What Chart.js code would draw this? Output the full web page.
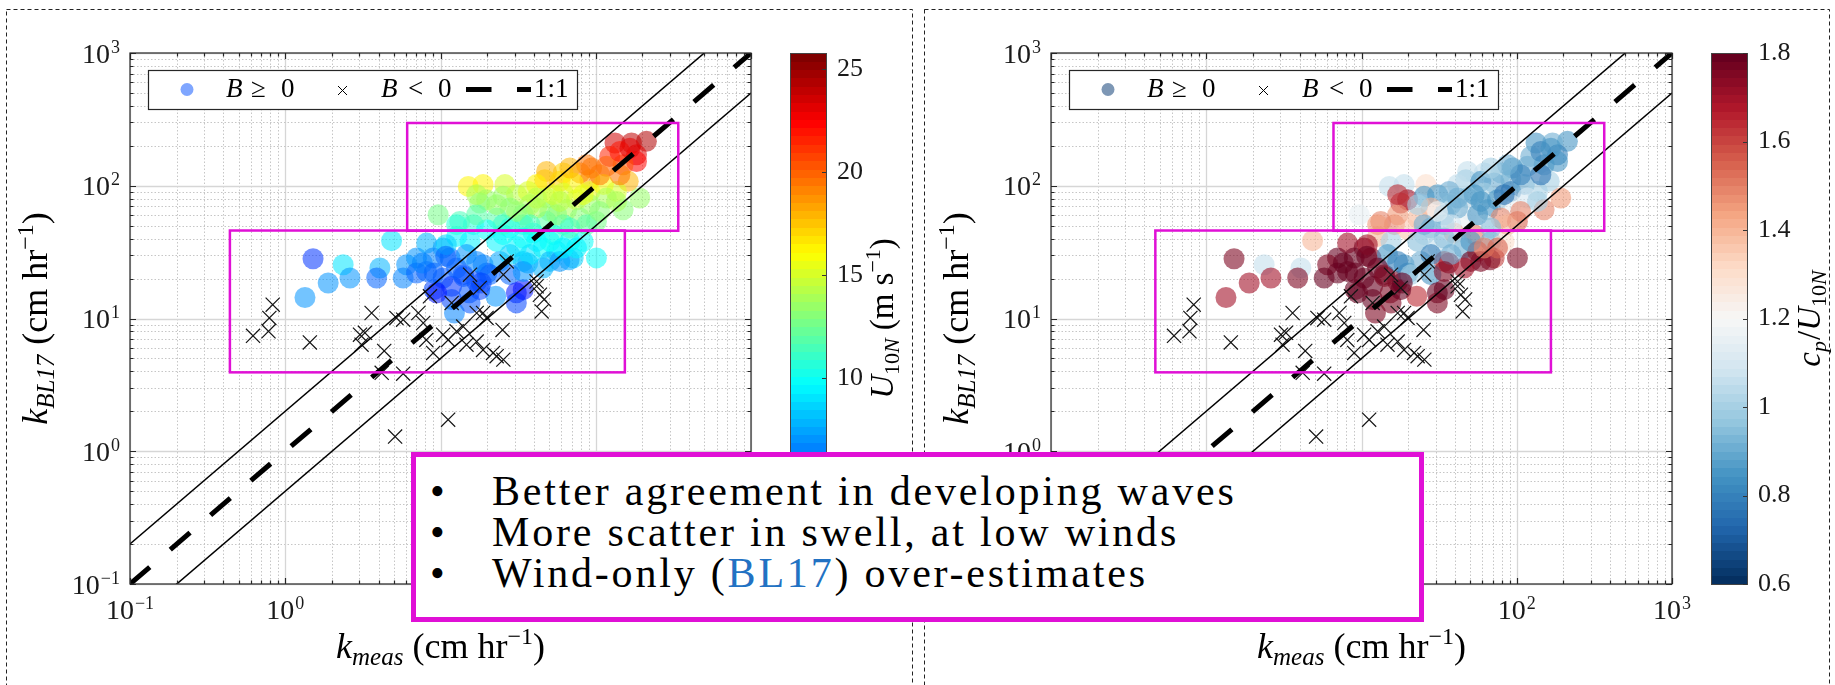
<!DOCTYPE html>
<html>
<head>
<meta charset="utf-8">
<script src="https://cdn.jsdelivr.net/npm/chart.js@4.4.1/dist/chart.umd.min.js"></script>
<style>
  html, body { margin: 0; padding: 0; background: #fff; }
  #wrap { position: relative; width: 1835px; height: 685px; overflow: hidden; background: #fff; }
  canvas { position: absolute; top: 0; }
  #cL { left: 0; }
  #cR { left: 917px; }
  #note {
    position: absolute; left: 411px; top: 452px; width: 1013px; height: 170px;
    box-sizing: border-box; border: 5px solid #e010d6; background: #fff;
    font-family: "Liberation Serif", serif; font-size: 42px; color: #000;
  }
  .ln { position: absolute; left: 0; width: 100%; height: 42px; line-height: 42px; white-space: nowrap; }
  .bl { position: absolute; left: 14px; top: 0; }
  .tx { position: absolute; left: 76px; top: 0; letter-spacing: 2.8px; }
  .ref { color: #2272c3; }
</style>
</head>
<body>
<div id="wrap">
  <canvas id="cL" width="917" height="685"></canvas>
  <canvas id="cR" width="918" height="685"></canvas>
  <div id="note">
    <div class="ln" style="top:13px"><span class="bl">•</span><span class="tx">Better agreement in developing waves</span></div>
    <div class="ln" style="top:54px"><span class="bl">•</span><span class="tx">More scatter in swell, at low winds</span></div>
    <div class="ln" style="top:95px"><span class="bl">•</span><span class="tx">Wind-only (<span class="ref">BL17</span>) over-estimates</span></div>
  </div>
</div>
<script>
// ---- bubble-mediated gas transfer: B >= 0 samples ----
const kMeas = [212, 170, 133, 183, 183, 123, 150, 162, 117, 94, 91.6, 79, 61.7, 48.2, 47, 58.7, 71.6, 91.6, 112, 136,
  192, 150, 117, 18.8, 15.1, 26, 41.6, 19.8, 25.3, 30.9, 36.7, 48.2, 61.7, 75.2, 91.6, 17.9, 28, 37.7, 50.6, 64.9,
  79, 101, 9.66, 23, 34.1, 48.2, 61.7, 16.3, 19.8, 28, 39.5, 53.2, 68.1, 12.7, 15.5, 23, 30.9, 45.8, 56, 71.6,
  101, 4.84, 8.14, 10.4, 7.01, 8.97, 11.5, 14.7, 18.8, 24.1, 34.1, 50.6, 58.7, 1.51, 2.36, 2.61, 4.07, 3.88, 6.05, 5.75,
  1.89, 8.14, 10.4, 14, 17.1, 28, 1.34, 9.1, 11.8, 11.8, 15.3, 12.3, 22.7, 30.8, 30.8, 36.5, 67.3, 19.9, 7.01, 15.5,
  17.9, 34.1, 9.44, 25.3, 34.1, 17.1, 13.3, 41.6, 83, 87.3, 28, 45.8, 106, 143, 83, 53.2,
  17.1, 23.0, 30.9, 41.6, 56, 68.1, 37.7, 25.3, 12.7, 10.9, 34.1, 50.6, 61.7, 75.2, 37.7, 17.1, 12.7, 20.8, 34.1,
  87.3, 68.1, 143, 166, 136, 106, 58.7, 41.6, 7.64, 10.8, 14.1, 18.3, 9.1];
const kBL17 = [216, 210, 210, 171, 152, 166, 144, 108, 140, 136, 111, 125, 125, 128, 111, 108, 105, 90.6, 102, 90.6,
  80.9, 66, 80.9, 102, 98.9, 102, 102, 78.5, 83.2, 85.7, 90.6, 80.9, 88.1, 78.5, 72, 74.1, 68, 72, 64.1, 66,
  57.2, 53.9, 60.5, 57.2, 60.5, 53.9, 50.9, 50.9, 46.7, 48.1, 44.1, 42.8, 38.1, 41.5, 38.1, 38.1, 34.9, 34, 32, 28.6,
  28.6, 38.6, 37, 34, 28.6, 28.6, 28.6, 30.3, 25.4, 26.9, 26.9, 26.9, 26.9, 28.2, 25.4, 20.2, 24, 20.2, 25.4, 20.2,
  18.5, 22.6, 20.2, 21.4, 19, 21.4, 14.4, 16.5, 17.5, 13.9, 15.6, 11, 14.7, 15.6, 13.1, 26.2, 27.7, 22, 22, 13.1,
  16.5, 16.5, 15.6, 42.8, 50.9, 60.5, 53.9, 38.1, 38.1, 50.9, 30.3, 24, 121, 181, 85.7, 85.7,
  85.7, 72, 64.1, 68, 60.5, 48.1, 50.9, 50.9, 50.9, 36, 40.4, 38.1, 34, 34, 30.3, 26.9, 24, 21.4, 22.6,
  144, 136, 121, 192, 76.2, 64.1, 76.2, 80.9, 26.2, 29.4, 20.7, 18.5, 22];
const u10N = [24.5, 24, 23.5, 23, 22.5, 21.5, 20.5, 18, 20, 19.5, 18.5, 19, 17, 18, 17.5, 17, 16.5, 15.5, 16, 15,
  13.5, 13, 14, 16.5, 16.5, 15, 16.5, 13.5, 13.5, 14.5, 15, 14.5, 15, 15, 13.5, 13, 13, 14, 13, 14,
  13, 12.5, 12.5, 12, 12.5, 12, 11, 10.5, 10, 10, 10, 10.5, 10, 9.5, 9.5, 9.5, 9.5, 10, 9.5, 8.5,
  10, 9, 8, 7.5, 7, 6.5, 6, 7, 6.5, 7.5, 8, 8, 7, 4.5, 9, 7, 8, 6, 7, 6.5,
  7, 6, 5.5, 5, 5, 6, 7, 5, 4.5, 5, 5.5, 6.5, 7, 4, 5, 8, 7.5, 6, 6, 5.5,
  5, 4, 4, 10, 11, 12, 11.5, 9.5, 10, 12, 8.5, 8, 19.5, 22, 15.5, 15,
  14, 13.5, 13.5, 14, 13, 11.5, 11.5, 11, 10.5, 8.5, 10, 10, 9.5, 9.5, 9, 6.5, 6, 6, 7,
  19.5, 18, 19.5, 23, 14, 13, 14.5, 14.5, 6.5, 6, 5.5, 5, 6];
const cpU10N = [0.85, 0.9, 0.85, 0.8, 0.85, 0.9, 0.85, 1.0, 0.9, 0.85, 0.9, 0.95, 1.05, 1.05, 1.0, 0.85, 0.9, 0.8, 0.9, 1.0,
  1.45, 1.5, 1.1, 1.05, 1.05, 1.3, 1.05, 1.7, 0.85, 0.85, 0.9, 0.95, 1.0, 0.85, 1.15, 1.65, 1.4, 0.95, 1.15, 0.85,
  1.5, 1.55, 1.15, 1.4, 0.9, 1.15, 1.2, 1.5, 1.35, 0.9, 1.4, 1.5, 0.9, 1.4, 1.0, 0.95, 1.05, 0.9, 1.6, 1.6,
  1.75, 1.4, 1.7, 1.75, 1.8, 1.8, 1.75, 0.85, 0.85, 0.9, 1.6, 1.8, 1.75, 1.75, 1.05, 1.7, 1.05, 1.75, 1.75, 1.8,
  1.7, 1.8, 1.8, 1.8, 1.75, 0.85, 1.7, 1.8, 1.8, 1.8, 1.75, 1.75, 1.65, 1.8, 1.75, 1.7, 1.75, 0.85, 1.8, 1.75,
  1.8, 1.8, 1.8, 1.0, 0.95, 1.45, 1.5, 1.0, 1.3, 1.4, 0.8, 1.7, 0.8, 0.8, 0.75, 0.85,
  1.65, 1.0, 1.2, 0.9, 0.85, 0.95, 1.1, 0.9, 1.45, 1.7, 0.95, 0.85, 1.5, 1.55, 0.9, 0.8, 1.8, 1.0, 1.75,
  0.9, 1.0, 0.75, 0.85, 1.0, 1.5, 0.85, 0.9, 1.8, 1.8, 1.75, 1.8, 1.8];

// ---- B < 0 samples ----
const kMeasNeg = [0.83, 0.79, 0.78, 0.62, 1.44, 3.6, 3.03, 3.26, 3.1, 4.34, 5.2, 5.75, 4.18, 5.75, 7.2, 7.74, 8.97, 10.4,
  11.2, 12.7, 14.7, 17.1, 17.9, 18.8, 19.8, 21.8, 25.1, 25.4, 41.6, 43.7, 44.8, 11.2, 5.1, 8.55, 11.8, 14.0, 8.1,
  15.5, 26.7, 25.4, 41.6, 46.5, 17.1, 18.8, 23.0];
const kBL17Neg = [12.7, 10.1, 8.0, 7.4, 6.6, 11.0, 7.55, 7.8, 6.35, 5.7, 10.1, 9.8, 3.9, 3.84, 11.0, 9.25, 5.5, 7.55,
  6.9, 8.0, 6.35, 6.7, 17.0, 11.0, 10.1, 5.5, 8.2, 4.9, 17.5, 15.1, 11.3, 1.73, 1.29, 14.7, 13.1, 8.7, 6.9,
  21.4, 26.9, 21.4, 19.0, 13.9, 11.0, 5.8, 5.2];

// ---- reference lines: 1:1 and factor-of-two band ----
const lineX = [0.1, 1000];
const bandFactors = [2, 0.5];

// ---- axes and colour scales ----
const axisRange = [0.1, 1000];
const logTickExponents = [-1, 0, 1, 2, 3];
const u10Range = [0, 25.8];
const u10Ticks = [5, 10, 15, 20, 25];
const cpRange = [0.6, 1.8];
const cpTicks = [0.6, 0.8, 1, 1.2, 1.4, 1.6, 1.8];
const cpTickLabels = ['0.6', '0.8', '1', '1.2', '1.4', '1.6', '1.8'];

// ---- highlighted regimes (k_meas range, k_BL17 range) ----
const regimesLeft = [{ x: [6.1, 340], y: [45.8, 297] }, { x: [0.44, 154], y: [3.93, 46] }];
const regimesRight = [{ x: [6.6, 366], y: [45.8, 297] }, { x: [0.47, 166], y: [3.93, 46] }];

const SERIF = '"Liberation Serif", "DejaVu Serif", serif';
const fnt = (size, italic) => (italic ? 'italic ' : '') + size + 'px ' + SERIF;
const MAGENTA = '#e010d6';
const AXIS = '#262626';

function clamp01(v) { return Math.max(0, Math.min(1, v)); }
function quantize(t, n) { n = n || 64; return Math.min(n - 1, Math.floor(clamp01(t) * n)) / (n - 1); }
function jet(t) {
  return [Math.min(4 * t - 1.5, -4 * t + 4.5), Math.min(4 * t - 0.5, -4 * t + 3.5), Math.min(4 * t + 0.5, -4 * t + 2.5)]
    .map(v => Math.round(clamp01(v) * 255));
}
const RDBU = [[5, 48, 97], [33, 102, 172], [67, 147, 195], [146, 197, 222], [209, 229, 240], [247, 247, 247],
  [253, 219, 199], [244, 165, 130], [214, 96, 77], [178, 24, 43], [103, 0, 31]];
function rdbu(t) {
  t = clamp01(t);
  const p = t * (RDBU.length - 1);
  const i = Math.min(Math.floor(p), RDBU.length - 2);
  const f = p - i;
  return RDBU[i].map((v, k) => Math.round(v + (RDBU[i + 1][k] - v) * f));
}
const rgba = (c, a) => 'rgba(' + c[0] + ',' + c[1] + ',' + c[2] + ',' + a + ')';

const jetOf = u => jet(quantize((u - u10Range[0]) / (u10Range[1] - u10Range[0])));
const rdbuOf = c => rdbu(quantize((c - cpRange[0]) / (cpRange[1] - cpRange[0])));

// grid values of a log axis: 1..9 x 10^e
const gridValues = [];
for (let e = Math.log10(axisRange[0]); e < Math.log10(axisRange[1]); e++) {
  for (let m = 1; m < 10; m++) gridValues.push(m * Math.pow(10, e));
}
gridValues.push(axisRange[1]);
const isDecade = v => Math.abs(Math.log10(v) - Math.round(Math.log10(v))) < 1e-9;

function drawRich(ctx, parts, x, y, rotate) {
  ctx.save();
  ctx.translate(x, y);
  if (rotate) ctx.rotate(-Math.PI / 2);
  ctx.textAlign = 'left';
  ctx.textBaseline = 'alphabetic';
  ctx.fillStyle = '#000';
  let w = 0;
  parts.forEach(p => { ctx.font = p.f; p.w = ctx.measureText(p.t).width; w += p.w + (p.gap || 0); });
  let cx = -w / 2;
  parts.forEach(p => { ctx.font = p.f; ctx.fillText(p.t, cx, p.dy || 0); cx += p.w + (p.gap || 0); });
  ctx.restore();
}

function drawPow(ctx, exp, x, y, align) {
  const base = '10';
  const sup = exp < 0 ? '\u2212' + (-exp) : String(exp);
  ctx.font = fnt(28); const wb = ctx.measureText(base).width;
  ctx.font = fnt(18); const ws = ctx.measureText(sup).width;
  const total = wb + 1 + ws;
  const x0 = align === 'right' ? x - total : (align === 'center' ? x - total / 2 : x);
  ctx.textAlign = 'left';
  ctx.textBaseline = 'alphabetic';
  ctx.fillStyle = '#1a1a1a';
  ctx.font = fnt(28); ctx.fillText(base, x0, y);
  ctx.font = fnt(18); ctx.fillText(sup, x0 + wb + 1, y - 10);
}

function panelPlugin(cfg) {
  return {
    id: 'panelDecor',
    beforeDatasetsDraw(chart) {
      const { ctx, chartArea: ca, scales: { x, y } } = chart;
      ctx.save();
      gridValues.forEach(v => {
        const major = isDecade(v);
        ctx.strokeStyle = major ? '#d6d6d6' : '#c6c6c6';
        ctx.lineWidth = major ? 1.3 : 1;
        ctx.setLineDash(major ? [] : [1.5, 2]);
        const px = Math.round(x.getPixelForValue(v)) + 0.5;
        const py = Math.round(y.getPixelForValue(v)) + 0.5;
        ctx.beginPath();
        ctx.moveTo(px, ca.top); ctx.lineTo(px, ca.bottom);
        ctx.moveTo(ca.left, py); ctx.lineTo(ca.right, py);
        ctx.stroke();
      });
      ctx.restore();
    },
    afterDatasetsDraw(chart) {
      const { ctx, chartArea: ca, scales: { x, y } } = chart;
      ctx.save();

      // highlighted regimes
      ctx.strokeStyle = MAGENTA;
      ctx.lineWidth = 2.5;
      cfg.regimes.forEach(r => {
        const x0 = x.getPixelForValue(r.x[0]), x1 = x.getPixelForValue(r.x[1]);
        const y0 = y.getPixelForValue(r.y[1]), y1 = y.getPixelForValue(r.y[0]);
        ctx.strokeRect(x0, y0, x1 - x0, y1 - y0);
      });

      // axes box with inward ticks
      ctx.strokeStyle = AXIS;
      ctx.lineWidth = 1.2;
      ctx.strokeRect(ca.left, ca.top, ca.right - ca.left, ca.bottom - ca.top);
      ctx.beginPath();
      gridValues.forEach(v => {
        const len = isDecade(v) ? 6 : 3.5;
        const px = Math.round(x.getPixelForValue(v)) + 0.5;
        const py = Math.round(y.getPixelForValue(v)) + 0.5;
        ctx.moveTo(px, ca.bottom); ctx.lineTo(px, ca.bottom - len);
        ctx.moveTo(px, ca.top); ctx.lineTo(px, ca.top + len);
        ctx.moveTo(ca.left, py); ctx.lineTo(ca.left + len, py);
        ctx.moveTo(ca.right, py); ctx.lineTo(ca.right - len, py);
      });
      ctx.stroke();

      // tick labels
      logTickExponents.forEach(e => {
        const v = Math.pow(10, e);
        drawPow(ctx, e, x.getPixelForValue(v), ca.bottom + 35, 'center');
        drawPow(ctx, e, ca.left - 10, y.getPixelForValue(v) + 9.5, 'right');
      });

      // axis titles
      const midX = (ca.left + ca.right) / 2, midY = (ca.top + ca.bottom) / 2;
      drawRich(ctx, [
        { t: 'k', f: fnt(36, true) }, { t: 'meas', f: fnt(25, true), dy: 7, gap: 9 },
        { t: '(cm hr', f: fnt(36) }, { t: '\u22121', f: fnt(24), dy: -14 }, { t: ')', f: fnt(36) }
      ], midX, ca.bottom + 74, false);
      drawRich(ctx, [
        { t: 'k', f: fnt(36, true) }, { t: 'BL17', f: fnt(25, true), dy: 7, gap: 10 },
        { t: '(cm hr', f: fnt(36) }, { t: '\u22121', f: fnt(24), dy: -14 }, { t: ')', f: fnt(36) }
      ], ca.left - 83, midY, true);

      // legend
      const lx = ca.left + 18, ly = ca.top + 17, lw = 429, lh = 39;
      const lcy = ly + lh / 2, lbase = ly + 27;
      ctx.fillStyle = '#fff';
      ctx.fillRect(lx, ly, lw, lh);
      ctx.strokeStyle = AXIS; ctx.lineWidth = 1.2;
      ctx.strokeRect(lx + 0.5, ly + 0.5, lw, lh);
      ctx.fillStyle = cfg.legendDot;
      ctx.beginPath(); ctx.arc(lx + 39, lcy, 6.5, 0, Math.PI * 2); ctx.fill();
      ctx.fillStyle = '#000'; ctx.textAlign = 'left'; ctx.textBaseline = 'alphabetic';
      ctx.font = fnt(27, true); ctx.fillText('B', lx + 78, lbase);
      ctx.font = fnt(27); ctx.fillText('\u2265', lx + 103, lbase); ctx.fillText('0', lx + 133, lbase);
      ctx.strokeStyle = '#000'; ctx.lineWidth = 1;
      ctx.beginPath();
      ctx.moveTo(lx + 190, lcy - 3.5); ctx.lineTo(lx + 199, lcy + 5.5);
      ctx.moveTo(lx + 199, lcy - 3.5); ctx.lineTo(lx + 190, lcy + 5.5);
      ctx.stroke();
      ctx.font = fnt(27, true); ctx.fillText('B', lx + 233, lbase);
      ctx.font = fnt(27); ctx.fillText('<', lx + 260, lbase); ctx.fillText('0', lx + 290, lbase);
      ctx.lineWidth = 5;
      ctx.beginPath();
      ctx.moveTo(lx + 318, lcy); ctx.lineTo(lx + 343.5, lcy);
      ctx.moveTo(lx + 369, lcy); ctx.lineTo(lx + 383, lcy);
      ctx.stroke();
      ctx.fillText('1:1', lx + 386, lbase);

      // colour bar
      const cb = cfg.colorbar;
      const bx = ca.right + 39, bw = 36, bt = ca.top, bb = ca.bottom;
      const n = 64;
      for (let i = 0; i < n; i++) {
        const t = i / (n - 1);
        const yTop = bb - (i + 1) / n * (bb - bt), yBot = bb - i / n * (bb - bt);
        ctx.fillStyle = rgba(cb.cmap(t), 1);
        ctx.fillRect(bx, Math.floor(yTop), bw, Math.ceil(yBot) - Math.floor(yTop));
      }
      ctx.strokeStyle = '#444'; ctx.lineWidth = 1;
      ctx.strokeRect(bx + 0.5, bt + 0.5, bw, bb - bt);
      const vy = v => bb - (v - cb.range[0]) / (cb.range[1] - cb.range[0]) * (bb - bt);
      ctx.strokeStyle = '#333';
      ctx.beginPath();
      cb.ticks.forEach(v => {
        const py = Math.round(vy(v)) + 0.5;
        ctx.moveTo(bx + bw, py); ctx.lineTo(bx + bw - 4, py);
      });
      ctx.stroke();
      ctx.fillStyle = '#1a1a1a'; ctx.font = fnt(26); ctx.textBaseline = 'middle'; ctx.textAlign = 'left';
      cb.ticks.forEach((v, i) => ctx.fillText(cb.labels[i], bx + bw + 11, vy(v)));
      drawRich(ctx, cb.title, ca.right + cb.titleOffset, midY, true);

      // dashed panel frame
      ctx.strokeStyle = '#222'; ctx.lineWidth = 1; ctx.setLineDash([4, 3]);
      ctx.strokeRect(cfg.frame[0] + 0.5, 9.5, cfg.frame[1] - cfg.frame[0], 700);
      ctx.restore();
    }
  };
}

function makeChart(canvasId, pointColors, padding, cfg) {
  const circles = kMeas.map((v, i) => ({ x: v, y: kBL17[i] }));
  const crosses = kMeasNeg.map((v, i) => ({ x: v, y: kBL17Neg[i] }));
  return new Chart(document.getElementById(canvasId), {
    type: 'scatter',
    data: {
      datasets: [
        { label: 'B \u2265 0', data: circles, backgroundColor: pointColors, borderWidth: 0,
          pointRadius: 10.5, pointHoverRadius: 10.5, order: 5 },
        { label: 'B < 0', data: crosses, pointStyle: 'crossRot', borderColor: '#141414', borderWidth: 1.2,
          backgroundColor: '#141414', pointRadius: 10, pointHoverRadius: 10, order: 4 },
        { label: 'upper', data: lineX.map(v => ({ x: v, y: v * bandFactors[0] })), showLine: true,
          borderColor: '#000', borderWidth: 1.5, pointRadius: 0, order: 3 },
        { label: 'lower', data: lineX.map(v => ({ x: v, y: v * bandFactors[1] })), showLine: true,
          borderColor: '#000', borderWidth: 1.5, pointRadius: 0, order: 2 },
        { label: '1:1', data: lineX.map(v => ({ x: v, y: v })), showLine: true, borderColor: '#000',
          borderWidth: 5, borderDash: [26, 27], borderCapStyle: 'butt', pointRadius: 0, order: 1 }
      ]
    },
    options: {
      responsive: false,
      animation: false,
      devicePixelRatio: 1,
      events: [],
      layout: { padding },
      plugins: { legend: { display: false }, tooltip: { enabled: false } },
      scales: {
        x: { type: 'logarithmic', min: axisRange[0], max: axisRange[1], display: false },
        y: { type: 'logarithmic', min: axisRange[0], max: axisRange[1], display: false }
      }
    },
    plugins: [panelPlugin(cfg)]
  });
}

makeChart('cL', u10N.map(u => rgba(jetOf(u), 0.55)),
  { left: 130, right: 166, top: 53, bottom: 101 },
  {
    regimes: regimesLeft,
    legendDot: '#7fa6ff',
    frame: [6, 912],
    colorbar: {
      cmap: t => jet(t), range: u10Range, ticks: u10Ticks, labels: u10Ticks.map(String), titleOffset: 142,
      title: [
        { t: 'U', f: fnt(33, true) }, { t: '10', f: fnt(22), dy: 6 }, { t: 'N', f: fnt(22, true), dy: 6, gap: 8 },
        { t: '(m s', f: fnt(33) }, { t: '\u22121', f: fnt(22), dy: -13 }, { t: ')', f: fnt(33) }
      ]
    }
  });

makeChart('cR', cpU10N.map(c => rgba(rdbuOf(c), 0.6)),
  { left: 134, right: 163, top: 53, bottom: 101 },
  {
    regimes: regimesRight,
    legendDot: '#7d97b5',
    frame: [7, 912],
    colorbar: {
      cmap: t => rdbu(t), range: cpRange, ticks: cpTicks, labels: cpTickLabels, titleOffset: 148,
      title: [
        { t: 'c', f: fnt(33, true) }, { t: 'p', f: fnt(22, true), dy: 6, gap: 1 }, { t: '/', f: fnt(33) },
        { t: 'U', f: fnt(33, true) }, { t: '10', f: fnt(22), dy: 6 }, { t: 'N', f: fnt(22, true), dy: 6 }
      ]
    }
  });
</script>
</body>
</html>
